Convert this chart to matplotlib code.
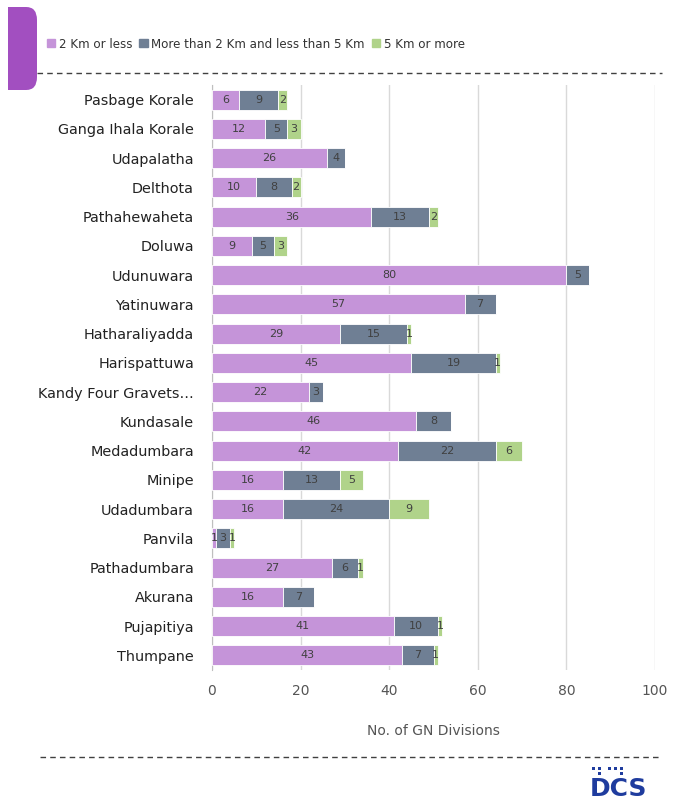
import matplotlib
matplotlib.use("Agg")
import matplotlib.pyplot as plt
from matplotlib.patches import FancyBboxPatch, Rectangle
from matplotlib.lines import Line2D

categories = ["Pasbage Korale", "Ganga Ihala Korale", "Udapalatha", "Delthota",
              "Pathahewaheta", "Doluwa", "Udunuwara", "Yatinuwara", "Hatharaliyadda",
              "Harispattuwa", "Kandy Four Gravets…", "Kundasale", "Medadumbara",
              "Minipe", "Udadumbara", "Panvila", "Pathadumbara", "Akurana",
              "Pujapitiya", "Thumpane"]
less2 = [6, 12, 26, 10, 36, 9, 80, 57, 29, 45, 22, 46, 42, 16, 16, 1, 27, 16, 41, 43]
mid = [9, 5, 4, 8, 13, 5, 5, 7, 15, 19, 3, 8, 22, 13, 24, 3, 6, 7, 10, 7]
more5 = [2, 3, 0, 2, 2, 3, 0, 0, 1, 1, 0, 0, 6, 5, 9, 1, 1, 0, 1, 1]
series_names = ["2 Km or less", "More than 2 Km and less than 5 Km", "5 Km or more"]
xticks = [0, 20, 40, 60, 80, 100]

colors = ["#C594D9", "#6F7F94", "#B0D38A"]

fig = plt.figure(figsize=(6.76, 8.05), dpi=100)
ax = fig.add_axes([212/676, (805-670)/805, (655-212)/676, 585/805])

y = list(range(len(categories)))
left = [0]*len(categories)
for vals, c in zip([less2, mid, more5], colors):
    bars = ax.barh(y, vals, left=left, color=c, height=0.68, edgecolor="white", linewidth=0.6, zorder=3)
    for b, v, l in zip(bars, vals, left):
        if v > 0:
            ax.text(l + v/2, b.get_y() + b.get_height()/2, str(v), ha="center", va="center",
                    fontsize=8, color="#404040", zorder=4)
    left = [a + b for a, b in zip(left, vals)]

ax.set_ylim(len(categories) - 0.5, -0.5)
ax.set_xlim(0, 100)
ax.set_xticks(xticks)
ax.set_yticks(y)
ax.set_yticklabels(categories, fontsize=10.4, color="#222222")
ax.tick_params(axis="x", labelsize=10, colors="#555555", length=0, pad=10)
ax.tick_params(axis="y", length=0, pad=13)
ax.xaxis.grid(True, color="#D9D9D9", linewidth=1, zorder=0)
for s in ["top", "right", "bottom"]:
    ax.spines[s].set_visible(False)
ax.spines["left"].set_color("#BFBFBF")
ax.set_xlabel("No. of GN Divisions", fontsize=10, color="#555555", labelpad=19)

# legend
handles = [plt.Rectangle((0, 0), 1, 1, color=c) for c in colors]
fig.legend(handles, series_names, loc="center left", bbox_to_anchor=(36/676, 1 - 44/805),
           ncol=3, frameon=False, fontsize=8.6, handlelength=0.7, handleheight=0.7,
           handletextpad=0.3, columnspacing=0.6, labelcolor="#333333")

# purple tab (square left edge, rounded right corners)
tab = FancyBboxPatch((8/676, 1 - 90/805), 29/676, 83/805,
                     boxstyle="round,pad=0,rounding_size=0.016", transform=fig.transFigure,
                     facecolor="#A24FC0", edgecolor="none")
fig.patches.append(tab)
fig.patches.append(Rectangle((8/676, 1 - 90/805), 14/676, 83/805, transform=fig.transFigure,
                             facecolor="#A24FC0", edgecolor="none"))

# dashed lines
for yy, x0 in [(73, 37), (757, 40)]:
    fig.add_artist(Line2D([x0/676, 662/676], [1 - yy/805, 1 - yy/805], transform=fig.transFigure,
                          color="#404040", linestyle=(0, (4, 3)), linewidth=1))

# DCS logo
fig.text(618/676, 1 - 789/805, "DCS", ha="center", va="center", fontsize=18, fontweight="bold",
         color="#1F3C9E", family="DejaVu Sans")
for dx, dy in [(-20, 0), (-14, 0), (-14, 5), (-4, 0), (2, 0), (8, 0), (8, 5)]:
    fig.patches.append(Rectangle(((612+dx)/676, 1 - (770+dy)/805), 3/676, 3/805,
                                 transform=fig.transFigure, facecolor="#1F3C9E", edgecolor="none"))

fig.savefig("out.png", dpi=100)
